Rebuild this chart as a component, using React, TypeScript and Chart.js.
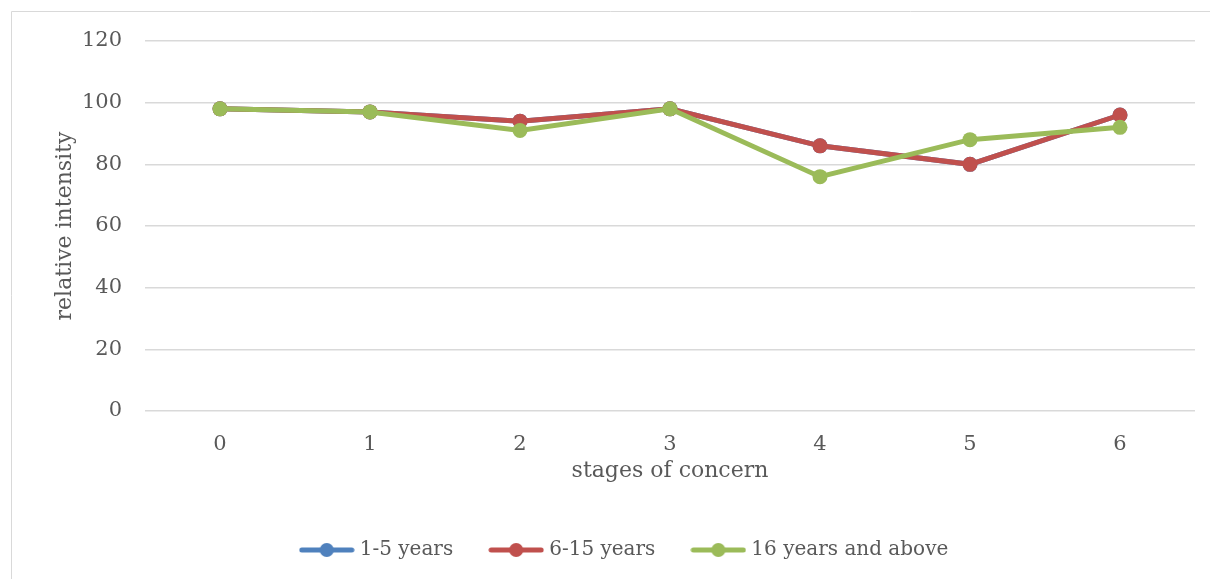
import React, { useEffect, useRef } from "react";
import { Chart, registerables } from "chart.js";

Chart.register(...registerables);

// Stages of concern on the x axis
const stages = ["0", "1", "2", "3", "4", "5", "6"];

// Relative intensity per experience group
const years1to5 = [98, 97, 94, 98, 86, 80, 96];
const years6to15 = [98, 97, 94, 98, 86, 80, 96];
const years16plus = [98, 97, 91, 98, 76, 88, 92];

const seriesNames = ["1-5 years", "6-15 years", "16 years and above"];
const seriesColors = ["#4F81BD", "#C0504D", "#9BBB59"];

const TEXT = "#595959";
const GRID = "#d9d9d9";
const FONT = "'DejaVu Serif', serif";

// Legend marker: a short thick line with a dot in the middle
function makeMarker(color: string): HTMLCanvasElement {
  const c = document.createElement("canvas");
  c.width = 56;
  c.height = 16;
  const ctx = c.getContext("2d")!;
  ctx.strokeStyle = color;
  ctx.lineWidth = 5;
  ctx.lineCap = "round";
  ctx.beginPath();
  ctx.moveTo(3, 8);
  ctx.lineTo(53, 8);
  ctx.stroke();
  ctx.fillStyle = color;
  ctx.beginPath();
  ctx.arc(28, 8, 7, 0, Math.PI * 2);
  ctx.fill();
  return c;
}

// Light frame around the chart area
const framePlugin = {
  id: "frame",
  beforeDraw(chart: any) {
    const { ctx, width, height } = chart;
    ctx.save();
    ctx.strokeStyle = GRID;
    ctx.lineWidth = 1;
    ctx.beginPath();
    ctx.moveTo(11.5, height);
    ctx.lineTo(11.5, 11.5);
    ctx.lineTo(width, 11.5);
    ctx.stroke();
    ctx.restore();
  },
};

export default function App() {
  const ref = useRef<HTMLCanvasElement>(null);

  useEffect(() => {
    const markers = seriesColors.map(makeMarker);
    const values = [years1to5, years6to15, years16plus];
    const chart = new Chart(ref.current!, {
      type: "line",
      data: {
        labels: stages,
        datasets: values.map((v, i) => ({
          label: seriesNames[i],
          data: v,
          borderColor: seriesColors[i],
          backgroundColor: seriesColors[i],
          pointBackgroundColor: seriesColors[i],
          borderWidth: 5,
          pointRadius: 7.5,
          pointBorderWidth: 0,
          pointHoverRadius: 7.5,
          tension: 0,
          order: 3 - i,
        })),
      },
      options: {
        responsive: false,
        animation: false,
        devicePixelRatio: 1,
        layout: { padding: { left: 57, right: 15, top: 41, bottom: 9 } },
        plugins: {
          tooltip: { enabled: false },
          legend: {
            position: "bottom",
            labels: {
              usePointStyle: true,
              pointStyleWidth: 46,
              padding: 40,
              color: TEXT,
              font: { family: FONT, size: 20 },
              sort: (a: any, b: any) => a.datasetIndex - b.datasetIndex,
              generateLabels: (c: any) =>
                Chart.defaults.plugins.legend.labels
                  .generateLabels(c)
                  .map((l: any) => ({ ...l, pointStyle: markers[l.datasetIndex] })),
            },
          },
        },
        scales: {
          x: {
            offset: true,
            grid: { display: false },
            border: { display: false },
            ticks: { color: TEXT, font: { family: FONT, size: 21 }, padding: 13 },
            title: {
              display: true,
              text: "stages of concern",
              color: TEXT,
              font: { family: FONT, size: 22 },
              padding: { top: 0, bottom: 16 },
            },
            afterFit: (s: any) => {
              s.height = 89;
            },
          },
          y: {
            min: 0,
            max: 120,
            ticks: { stepSize: 20, color: TEXT, font: { family: FONT, size: 21 }, padding: 23 },
            grid: { color: GRID, lineWidth: 1.5, drawTicks: false },
            border: { display: false },
            title: {
              display: true,
              text: "relative intensity",
              color: TEXT,
              font: { family: FONT, size: 22, lineHeight: 1 },
              padding: { top: -3, bottom: 0 },
            },
            afterFit: (s: any) => {
              s.width = 88;
            },
          },
        },
      },
      plugins: [framePlugin],
    });
    return () => chart.destroy();
  }, []);

  return (
    <div style={{ position: "fixed", left: 0, top: 0, width: 1210, height: 579, background: "#fff" }}>
      <canvas ref={ref} width={1210} height={579} style={{ width: 1210, height: 579 }} />
    </div>
  );
}
